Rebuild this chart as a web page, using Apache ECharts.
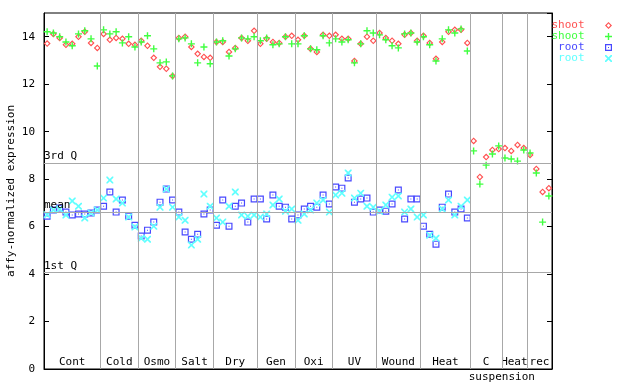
<!DOCTYPE html>
<html><head><meta charset="utf-8">
<script src="https://cdn.jsdelivr.net/npm/echarts@6/dist/echarts.min.js"></script>
<style>html,body{margin:0;padding:0;background:#fff}#c{width:640px;height:384px}</style>
</head><body><div id="c"></div>
<script>
// ---- data ----
const groupNames = ['Cont','Cold','Osmo','Salt','Dry','Gen','Oxi','UV','Wound','Heat','C','Heat','rec'];
const groupSizes = [9,6,6,6,7,6,6,7,7,8,5,4,4];
const subLabel = 'suspension';

const shootRed = [13.71,14.12,13.95,13.66,13.70,14.00,14.21,13.74,13.53,
  14.12,13.87,13.95,13.91,13.70,13.66,
  13.83,13.62,13.11,12.73,12.65,12.35,
  13.95,14.00,13.57,13.28,13.15,13.11,
  13.78,13.78,13.36,13.53,13.95,13.83,14.25,
  13.70,13.91,13.78,13.74,14.00,14.04,
  13.87,14.04,13.49,13.36,14.08,14.04,
  14.08,13.91,13.91,12.98,13.70,14.00,13.83,
  14.16,13.95,13.83,13.70,14.08,14.16,13.83,
  14.04,13.74,13.07,13.78,14.21,14.29,14.29,13.74,
  9.61,8.09,8.93,9.23,9.27,
  9.31,9.19,9.44,9.31,
  9.02,8.43,7.46,7.62];
const shootGreen = [14.21,14.16,14.00,13.78,13.62,14.12,14.25,13.91,12.77,
  14.29,14.12,14.21,13.74,14.00,13.57,
  13.78,14.04,13.49,12.90,12.94,12.35,
  13.91,13.95,13.70,12.90,13.57,12.86,
  13.78,13.83,13.19,13.49,13.95,13.91,14.00,
  13.83,13.95,13.66,13.70,14.00,13.70,
  13.70,14.04,13.49,13.45,14.04,13.74,
  13.91,13.78,13.87,12.90,13.70,14.25,14.16,
  14.08,13.87,13.62,13.53,14.12,14.16,13.78,
  14.00,13.66,12.98,13.91,14.29,14.16,14.33,13.40,
  9.19,7.79,8.59,9.06,9.40,
  8.89,8.85,8.76,9.23,
  9.10,8.26,6.19,7.29];
const rootBlue = [6.44,6.70,6.78,6.61,6.49,6.53,6.53,6.57,6.70,
  6.86,7.46,6.61,7.12,6.44,6.06,
  5.60,5.85,6.19,7.03,7.58,7.12,
  6.61,5.77,5.47,5.68,6.53,6.70,
  6.06,7.12,6.02,6.86,6.99,6.19,7.16,
  7.16,6.32,7.33,6.86,6.82,6.32,
  6.49,6.74,6.86,6.82,7.33,6.95,
  7.67,7.62,8.05,7.03,7.16,7.20,6.61,
  6.70,6.65,6.95,7.54,6.32,7.16,7.16,
  6.02,5.68,5.26,6.82,7.37,6.61,6.74,6.36];
const rootCyan = [6.50,6.70,6.74,6.49,7.08,6.86,6.36,6.57,6.70,
  7.20,7.96,7.16,6.99,6.40,5.98,
  5.51,5.47,6.02,6.82,7.58,6.82,
  6.40,6.27,5.22,5.47,7.37,6.86,
  6.36,6.19,6.86,7.46,6.49,6.44,6.49,
  6.40,6.53,6.91,7.16,6.65,6.74,
  6.27,6.53,6.70,6.99,7.12,6.61,
  7.33,7.41,8.26,7.20,7.41,6.86,6.82,
  6.65,6.91,7.24,7.29,6.61,6.74,6.40,
  6.49,5.64,5.51,6.74,7.12,6.49,6.86,7.12];
const refNames = ['3rd Q','mean','1st Q'];
const refValues = [8.68, 6.61, 4.06];
const yMin = 0, yMax = 15, yStep = 2;

// ---- build ----
const FONT = 'DejaVu Sans Mono';
const total = groupSizes.reduce((a,b)=>a+b,0);
const bounds = [0];
groupSizes.forEach(s => bounds.push(bounds[bounds.length-1] + s));

const toPts = arr => arr.map((v,i)=>[i+0.5, v]);

const SYM = {
  diamond: 'path://M3.5,0L7,3.5L3.5,7L0,3.5Z M3.5,1.6L1.6,3.5L3.5,5.4L5.4,3.5Z',
  plus: 'path://M2.8,0H4.2V2.8H7V4.2H4.2V7H2.8V4.2H0V2.8H2.8Z',
  square: 'path://M0,0H7V7H0Z M1.2,1.2V5.8H5.8V1.2Z M3,3H4V4H3Z',
  cross: 'path://M0,0H1.2L3.5,2.3L5.8,0H7V1.2L4.7,3.5L7,5.8V7H5.8L3.5,4.7L1.2,7H0V5.8L2.3,3.5L0,1.2Z'
};
const seriesDefs = [
  {name:'shoot', data: shootRed, sym: SYM.diamond, color:'#ff5050'},
  {name:'shoot_2', data: shootGreen, sym: SYM.plus, color:'#40ff40'},
  {name:'root', data: rootBlue, sym: SYM.square, color:'#4848ff'},
  {name:'root_2', data: rootCyan, sym: SYM.cross, color:'#60ffff'}
];
const legendTops = [20, 31, 42, 53];

const markAreaData = groupNames.map((n,i)=>[
  {name:n, xAxis: bounds[i], yAxis: yMin},
  {xAxis: bounds[i+1], yAxis: yMax}
]);
const vLines = bounds.slice(1, -1).map(b => ({xAxis: b, label:{show:false}}));
const hLines = refNames.map((n,i)=>({yAxis: refValues[i], name:n,
  label:{show:true, formatter:n, position:'insideStartTop', distance:[0,1],
         color:'#000', fontFamily:FONT, fontSize:11, padding:0}}));

const chart = echarts.init(document.getElementById('c'), null, {renderer:'canvas'});
const option = {
  animation:false,
  backgroundColor:'#fff',
  textStyle:{fontFamily:FONT},
  grid:{left:44, right:88, top:13, bottom:15, containLabel:false, outerBoundsMode:'none',
        show:true, borderColor:'#000', borderWidth:1, backgroundColor:'transparent'},
  xAxis:{type:'value', min:0, max:total, axisLabel:{show:false}, axisTick:{show:false},
    splitLine:{show:false}, axisLine:{show:true, lineStyle:{color:'#000', width:1}}},
  yAxis:[{type:'value', min:yMin, max:yMax, interval:yStep, position:'left',
    name:'affy-normalized expression', nameLocation:'middle', nameGap:27, nameMoveOverlap:false,
    nameTextStyle:{fontFamily:FONT, fontSize:11, color:'#000'},
    axisLine:{show:true, lineStyle:{color:'#000', width:1}},
    axisTick:{show:true, inside:true, length:5, lineStyle:{color:'#000'}},
    axisLabel:{fontFamily:FONT, fontSize:11, color:'#000', margin:9, showMaxLabel:false},
    splitLine:{show:false}},
   {type:'value', min:yMin, max:yMax, interval:yStep, position:'right',
    axisLine:{show:true, lineStyle:{color:'#000', width:1}},
    axisTick:{show:true, inside:true, length:5, lineStyle:{color:'#000'}},
    axisLabel:{show:false}, splitLine:{show:false}}],
  legend: seriesDefs.map((s,i)=>({
    data:[s.name], orient:'vertical', align:'right', right:28, top:legendTops[i],
    padding:0, itemWidth:38, itemHeight:7, selectedMode:false,
    formatter: n => n.split('_')[0],
    textStyle:{color:s.color, fontFamily:FONT, fontSize:11}
  })),
  series:[
    {type:'line', name:'_frame', data:[], z:1, silent:true,
     markLine:{silent:true, symbol:'none', animation:false,
       lineStyle:{color:'#a8a8a8', width:1, type:'solid'},
       label:{show:false},
       data:[...vLines, ...hLines]},
     markArea:{silent:true, itemStyle:{color:'rgba(0,0,0,0)'},
       label:{show:true, position:'insideBottom', distance:1, color:'#000', fontFamily:FONT, fontSize:11, padding:0, lineHeight:11},
       data: markAreaData}
    },
    ...seriesDefs.map(s=>({
      type:'scatter', name:s.name, data: toPts(s.data), symbol:s.sym, symbolSize:7, z:3,
      itemStyle:{color:s.color, opacity:1}, emphasis:{disabled:true}
    }))
  ]
};
chart.setOption(option);
const sx = chart.convertToPixel({xAxisIndex:0}, bounds[11]);
chart.setOption({graphic:[{type:'text', x:sx, y:372, style:{text:subLabel, fill:'#000', font:'11px "'+FONT+'"', textAlign:'center', textVerticalAlign:'top'}}]});
</script></body></html>
